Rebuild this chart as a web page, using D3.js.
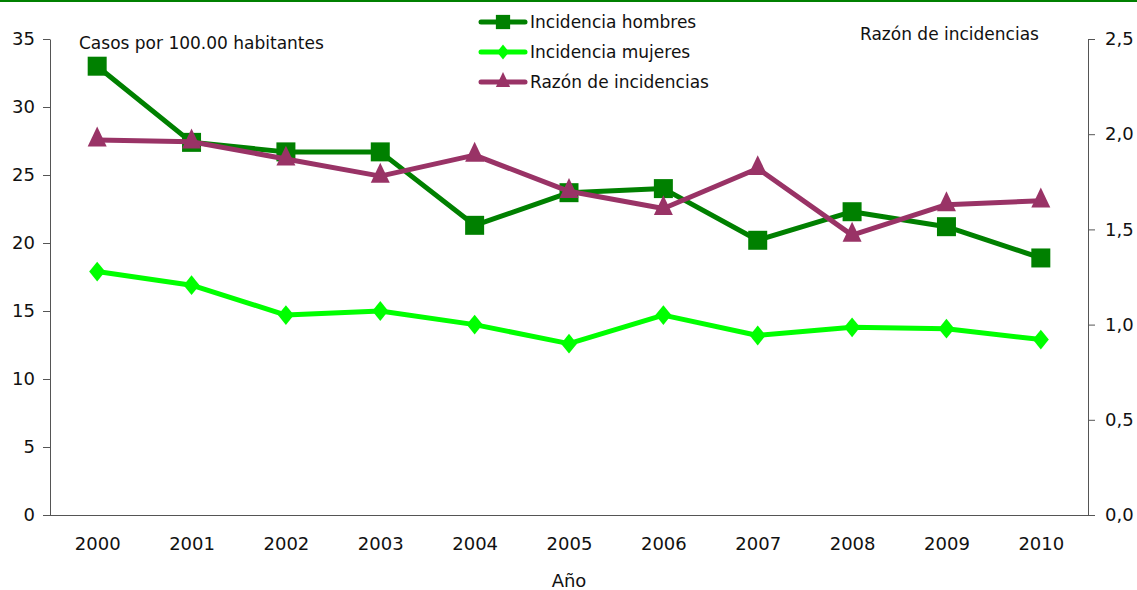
<!DOCTYPE html>
<html>
<head>
<meta charset="utf-8">
<script src="https://cdn.jsdelivr.net/npm/d3@7"></script>
<style>
  body { margin: 0; background: #fff; }
  svg { display: block; font-family: 'DejaVu Sans', Verdana, sans-serif; }
</style>
</head>
<body>
<div id="wrapper"></div>
<script>
const years = ['2000', '2001', '2002', '2003', '2004', '2005', '2006', '2007', '2008', '2009', '2010']
const hombres = [33.0, 27.4, 26.7, 26.7, 21.3, 23.7, 24.0, 20.2, 22.3, 21.2, 18.9]
const mujeres = [17.9, 16.9, 14.7, 15.0, 14.0, 12.6, 14.7, 13.2, 13.8, 13.7, 12.9]
const razon = [1.97, 1.96, 1.87, 1.78, 1.89, 1.70, 1.61, 1.82, 1.47, 1.63, 1.65]
const leftTicks = [0, 5, 10, 15, 20, 25, 30, 35]
const rightTicks = [0, 0.5, 1.0, 1.5, 2.0, 2.5]

// marker shapes sized in px: size = width of the marker
const squareMark = {
  draw(ctx, s) {
    const h = s / 2
    ctx.moveTo(-h, -h); ctx.lineTo(h, -h); ctx.lineTo(h, h); ctx.lineTo(-h, h); ctx.closePath()
  },
}
const diamondMark = {
  draw(ctx, s) {
    const w = s / 2
    const h = s * 0.62
    ctx.moveTo(0, -h); ctx.lineTo(w, 0); ctx.lineTo(0, h); ctx.lineTo(-w, 0); ctx.closePath()
  },
}
const triangleMark = {
  draw(ctx, s) {
    const w = s / 2
    const h = s * 1.05
    ctx.moveTo(0, -h * 2 / 3); ctx.lineTo(w, h / 3); ctx.lineTo(-w, h / 3); ctx.closePath()
  },
}

const series = [
  { name: 'Incidencia hombres', values: hombres, color: '#008000', symbol: squareMark, size: 19, axis: 'left' },
  { name: 'Incidencia mujeres', values: mujeres, color: '#00ff00', symbol: diamondMark, size: 16, axis: 'left' },
  { name: 'Razón de incidencias', values: razon, color: '#993366', symbol: triangleMark, size: 19, axis: 'right' },
]

const dimensions = {
  width: 1137,
  height: 590,
  margin: { top: 39, right: 49, bottom: 75, left: 50 },
}
dimensions.boundedWidth = dimensions.width - dimensions.margin.left - dimensions.margin.right
dimensions.boundedHeight = dimensions.height - dimensions.margin.top - dimensions.margin.bottom

const wrapper = d3.select('#wrapper')
  .append('svg')
  .attr('width', dimensions.width)
  .attr('height', dimensions.height)

// top rule
wrapper.append('line')
  .attr('x1', 0).attr('x2', dimensions.width)
  .attr('y1', 1).attr('y2', 1)
  .attr('stroke', '#008000')
  .attr('stroke-width', 2)

const bounds = wrapper.append('g')
  .attr('transform', `translate(${dimensions.margin.left},${dimensions.margin.top})`)

const xScale = d3.scalePoint()
  .domain(years)
  .range([0, dimensions.boundedWidth])
  .padding(0.5)

const yLeft = d3.scaleLinear()
  .domain([0, 35])
  .range([dimensions.boundedHeight, 0])

const yRight = d3.scaleLinear()
  .domain([0, 2.5])
  .range([dimensions.boundedHeight, 0])

const tickFont = '18px'

// x axis (baseline spanning both tick stubs)
const xAxis = bounds.append('g')
  .attr('transform', `translate(0,${dimensions.boundedHeight})`)
  .call(d3.axisBottom(xScale).tickSize(0).tickPadding(22))
xAxis.select('.domain')
  .attr('d', `M-7,0.5H${dimensions.boundedWidth + 7}`)
  .attr('stroke', '#555')
xAxis.selectAll('text')
  .attr('font-size', tickFont)
  .attr('font-family', "'DejaVu Sans', Verdana, sans-serif")
  .attr('fill', '#111')

const yAxisL = bounds.append('g')
  .call(d3.axisLeft(yLeft).tickValues(leftTicks).tickSize(7).tickPadding(8).tickSizeOuter(0))
yAxisL.selectAll('text')
  .attr('font-size', tickFont)
  .attr('font-family', "'DejaVu Sans', Verdana, sans-serif")
  .attr('fill', '#111')
yAxisL.selectAll('line, path').attr('stroke', '#555')

const yAxisR = bounds.append('g')
  .attr('transform', `translate(${dimensions.boundedWidth},0)`)
  .call(d3.axisRight(yRight).tickValues(rightTicks).tickSize(7).tickPadding(10).tickSizeOuter(0)
    .tickFormat(d => d3.format('.1f')(d).replace('.', ',')))
yAxisR.selectAll('text')
  .attr('font-size', tickFont)
  .attr('font-family', "'DejaVu Sans', Verdana, sans-serif")
  .attr('fill', '#111')
yAxisR.selectAll('line, path').attr('stroke', '#555')

// axis titles
bounds.append('text')
  .attr('x', 29).attr('y', 10)
  .attr('font-size', '17px')
  .attr('fill', '#111')
  .text('Casos por 100.00 habitantes')

bounds.append('text')
  .attr('x', 810).attr('y', 1)
  .attr('font-size', '17px')
  .attr('fill', '#111')
  .text('Razón de incidencias')

bounds.append('text')
  .attr('x', xScale('2005'))
  .attr('y', dimensions.boundedHeight + 72)
  .attr('text-anchor', 'middle')
  .attr('font-size', '18px')
  .attr('fill', '#111')
  .text('Año')

// lines and markers
series.forEach(s => {
  const yScale = s.axis === 'left' ? yLeft : yRight
  const lineGenerator = d3.line()
    .x((d, i) => xScale(years[i]))
    .y(d => yScale(d))

  bounds.append('path')
    .datum(s.values)
    .attr('d', lineGenerator)
    .attr('fill', 'none')
    .attr('stroke', s.color)
    .attr('stroke-width', 5)
    .attr('stroke-linejoin', 'round')

  bounds.selectAll(null)
    .data(s.values)
    .enter().append('path')
    .attr('d', d3.symbol().type(s.symbol).size(s.size))
    .attr('transform', (d, i) => `translate(${xScale(years[i])},${yScale(d)})`)
    .attr('fill', s.color)
})

// legend
const legend = wrapper.append('g')
  .attr('transform', 'translate(481,22)')

series.forEach((s, i) => {
  const row = legend.append('g')
    .attr('transform', `translate(0,${i * 30})`)
  row.append('line')
    .attr('x1', 0).attr('x2', 44)
    .attr('stroke', s.color)
    .attr('stroke-width', 5)
    .attr('stroke-linecap', 'round')
  row.append('path')
    .attr('d', d3.symbol().type(s.symbol).size(s.size * 0.75))
    .attr('transform', 'translate(22,0)')
    .attr('fill', s.color)
  row.append('text')
    .attr('x', 49).attr('y', 6)
    .attr('font-size', '17px')
    .attr('fill', '#111')
    .text(s.name)
})
</script>
</body>
</html>
